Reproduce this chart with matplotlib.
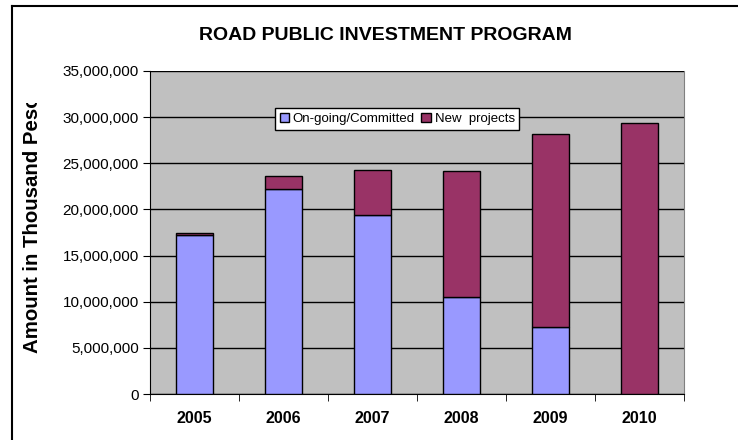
import numpy as np
import matplotlib
matplotlib.use('Agg')
import matplotlib.pyplot as plt
from matplotlib.transforms import Bbox
from matplotlib.lines import Line2D

plt.rcParams['font.family'] = ['Liberation Sans', 'DejaVu Sans']

years = ['2005', '2006', '2007', '2008', '2009', '2010']
ongoing = [17230000, 22200000, 19350000, 10500000, 7270000, 0]
new_projects = [260000, 1450000, 4920000, 13630000, 20930000, 29320000]

fig = plt.figure(figsize=(7.38, 4.40), dpi=100)
ax = fig.add_axes([150/738, 1-394/440, 534/738, 323/440])
ax.set_facecolor('#C0C0C0')

x = np.arange(len(years))
ax.bar(x, ongoing, width=0.42, color='#9999FF', edgecolor='black', linewidth=1,
       label='On-going/Committed', zorder=3)
ax.bar(x, new_projects, width=0.42, bottom=ongoing, color='#993366', edgecolor='black',
       linewidth=1, label='New  projects', zorder=3)

ax.set_xlim(-0.5, len(years)-0.5)
ax.set_ylim(0, 35000000)
ax.set_yticks(np.arange(0, 35000001, 5000000))
ax.yaxis.set_major_formatter(matplotlib.ticker.FuncFormatter(lambda v, p: f'{int(v):,}'))
ax.grid(axis='y', color='black', linewidth=1, zorder=1)
ax.set_axisbelow(True)

ax.set_xticks(x)
ax.set_xticklabels(years, fontweight='bold', fontsize=11.5)
ax.set_xticks(np.arange(-0.5, len(years)), minor=True)
ax.tick_params(axis='x', which='major', length=0, pad=12)
ax.tick_params(axis='x', which='minor', length=5, direction='out', color='black')
ax.tick_params(axis='y', length=5, direction='out', labelsize=11, pad=3)

ax.spines['top'].set_visible(False)
ax.spines['right'].set_color('#808080')
ax.spines['left'].set_color('black')
ax.spines['bottom'].set_color('black')

ax.legend(loc='upper left', bbox_to_anchor=(0.234, 0.885), ncol=2, fontsize=9.5,
          frameon=True, fancybox=False, edgecolor='black', facecolor='white', framealpha=1,
          handlelength=0.7, handleheight=0.7, handletextpad=0.3, columnspacing=0.5,
          borderpad=0.35, borderaxespad=0)

fig.text(385/738, 1-35/440, 'ROAD PUBLIC INVESTMENT PROGRAM', ha='center', va='center',
         fontsize=14, fontweight='bold')

# y label is cut off at the top in the original
ylab = fig.text(33/738, 1-353/440, 'Amount in Thousand Pesos', rotation=90, ha='center',
                va='bottom', fontsize=14.65, fontweight='bold')
ylab.set_clip_box(Bbox.from_extents(0, 0, 738, 440-103))
ylab.set_clip_on(True)

fig.add_artist(Line2D([12.5/738, 12.5/738], [0, 1-6.5/440], color='black', linewidth=1.5))
fig.add_artist(Line2D([12.5/738, 1], [1-6.5/440, 1-6.5/440], color='black', linewidth=1.5))

plt.savefig('out.png', dpi=100)
